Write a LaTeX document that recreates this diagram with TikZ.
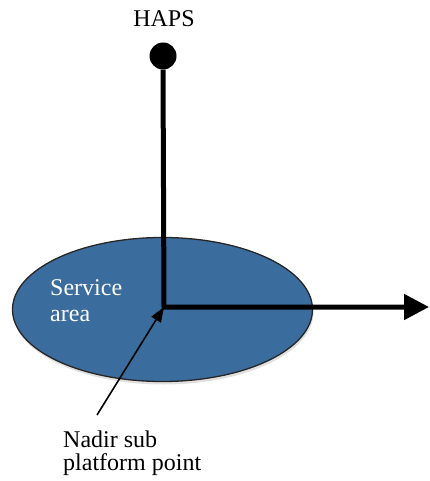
\documentclass[tikz,border=0pt]{standalone}
\usepackage{fontspec}
\setmainfont{Liberation Serif}
\usepackage{tikz}
\usetikzlibrary{arrows.meta, shapes.geometric, shadows}
\definecolor{areablue}{RGB}{59,108,158}

\begin{document}
\begin{tikzpicture}[x=1pt, y=-1pt, every node/.style={font=\fontsize{24}{23}\selectfont, inner sep=0pt}]
            \useasboundingbox (0,0) rectangle (429,481);
            \node[ellipse, draw=black!85, line width=1.3pt, fill=areablue, minimum width=300, minimum height=144,
                  drop shadow={shadow xshift=1pt, shadow yshift=-3pt, fill=black, opacity=0.12}] at (162.5,309.5) (area) {};
            \node[circle, fill=black, minimum size=27] at (163,56) (haps) {};
            \node[anchor=base] at (164,27) (hapslabel) {HAPS};
            \node[anchor=north west, align=left, text=white, font=\fontsize{24}{26}\selectfont] at (50,279) (arealabel) {Service\\area};
            \node[anchor=north west, align=left] at (63,431) (nadir) {Nadir sub\\platform point};
            \coordinate (o) at (164,307);
            \coordinate (east) at (429,307);
            \coordinate (tail) at (97,415);

            \draw [line width=5pt, -{Triangle[length=25pt, width=25pt]}] (haps.south) -- (o) -- (east);
            \draw [line width=1.6pt, -{Triangle[length=15pt, width=11pt]}] (tail) -- (o);
        \end{tikzpicture}
\end{document}
